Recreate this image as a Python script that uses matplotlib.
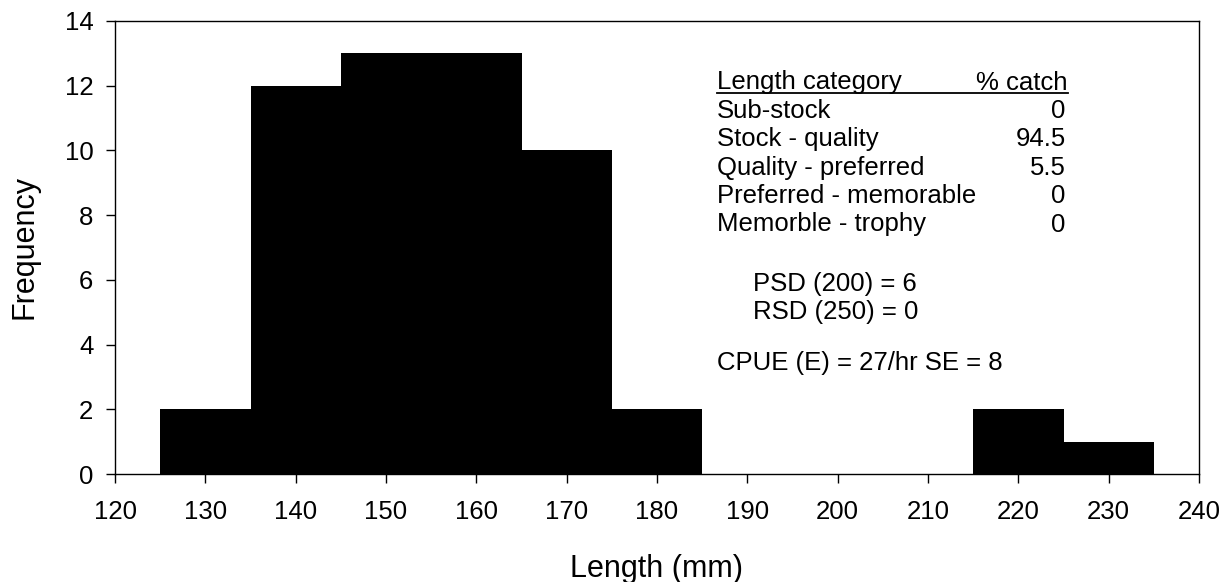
import matplotlib
matplotlib.use("Agg")
import matplotlib.pyplot as plt
from matplotlib.lines import Line2D

plt.rcParams['font.family'] = ['Liberation Sans', 'DejaVu Sans']

# Length-frequency histogram (10 mm bins, left edges)
bin_left = [125, 135, 145, 155, 165, 175, 215, 225]
frequency = [2, 12, 13, 13, 10, 2, 2, 1]
bin_width = 10

categories = ["Sub-stock", "Stock - quality", "Quality - preferred",
              "Preferred - memorable", "Memorble - trophy"]
pct_catch = ["0", "94.5", "5.5", "0", "0"]

indices = ["PSD (200) = 6", "RSD (250) = 0"]
cpue_text = "CPUE (E) = 27/hr SE = 8"

x_ticks = list(range(120, 241, 10))
y_ticks = list(range(0, 15, 2))

fig = plt.figure(figsize=(12.26, 5.82), dpi=100)
ax = fig.add_axes([115 / 1226, 1 - 474 / 582, 1084 / 1226, 453 / 582])

ax.bar(bin_left, frequency, width=bin_width, align='edge', color='black',
       edgecolor='black', linewidth=0)

ax.set_xlim(120, 240)
ax.set_ylim(0, 14)
ax.set_xticks(x_ticks)
ax.set_yticks(y_ticks)
ax.tick_params(direction='out', length=6.5, width=1, labelsize=18.5, pad=9,
               top=False, right=False)
ax.tick_params(axis='x', pad=12)
for s in ax.spines.values():
    s.set_linewidth(1)

ax.set_xlabel("Length (mm)", fontsize=22)
ax.set_ylabel("Frequency", fontsize=22)
ax.xaxis.set_label_coords((656.5 - 115) / 1084, (474 - 577) / 453)
ax.xaxis.label.set_va('baseline')
ax.yaxis.set_label_coords((25 - 115) / 1084, (474 - 247) / 453)
ax.yaxis.label.set_va('center')

# Summary table
fs = 18.5
x_left = (717 - 115) / 1084
x_right = (1068 - 115) / 1084
y_head = (474 - 89.5) / 453
row_step = 28.4 / 453

ax.text(x_left, y_head, "Length category", transform=ax.transAxes,
        fontsize=fs, ha='left', va='baseline')
ax.text(x_right, y_head, "% catch", transform=ax.transAxes,
        fontsize=fs, ha='right', va='baseline')
y_line = (474 - 92.5) / 453
ax.add_line(Line2D([x_left, x_right], [y_line, y_line], transform=ax.transAxes,
                   color='black', linewidth=1.3))

for i, (cat, pct) in enumerate(zip(categories, pct_catch)):
    y = y_head - (i + 1) * row_step
    ax.text(x_left, y, cat, transform=ax.transAxes, fontsize=fs,
            ha='left', va='baseline')
    ax.text(x_right - 0.002, y, pct, transform=ax.transAxes, fontsize=fs,
            ha='right', va='baseline')

x_idx = (753 - 115) / 1084
for i, t in enumerate(indices):
    y = (474 - 291 - i * 27.5) / 453
    ax.text(x_idx, y, t, transform=ax.transAxes, fontsize=fs,
            ha='left', va='baseline')

ax.text(x_left, (474 - 370) / 453, cpue_text, transform=ax.transAxes,
        fontsize=fs, ha='left', va='baseline')

fig.savefig("out.png", dpi=100)
